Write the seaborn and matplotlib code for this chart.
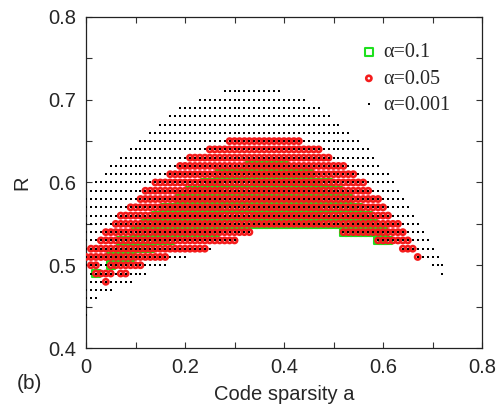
import matplotlib
matplotlib.use("Agg")
import matplotlib.pyplot as plt
import seaborn as sns
import pandas as pd
from matplotlib.ticker import MultipleLocator

# Grid rows (R values) and, for each row, the spans of code sparsity a (in hundredths)
R_rows = [0.71, 0.70, 0.69, 0.68, 0.67, 0.66, 0.65, 0.64, 0.63, 0.62,
          0.61, 0.60, 0.59, 0.58, 0.57, 0.56, 0.55, 0.54, 0.53, 0.52,
          0.51, 0.50, 0.49, 0.48, 0.47, 0.46, 0.45, 0.44]

black_spans = [
    [(28, 39)], [(23, 44)], [(19, 47)], [(17, 49)], [(15, 51)], [(13, 53)],
    [(11, 55)], [(9, 57)], [(7, 58)], [(5, 59)], [(4, 61)], [(2, 62)],
    [(1, 63)], [(0, 64)], [(0, 65)], [(0, 66)], [(0, 67)],
    [(0, 33), (52, 68)], [(0, 30), (59, 69)], [(0, 25), (64, 70)],
    [(0, 20), (67, 71)], [(0, 16), (70, 72)], [(1, 12), (72, 72)],
    [(1, 9)], [(0, 5)], [(0, 2)], [(0, 0)], [(0, 0)],
]

red_spans = [
    [], [], [], [], [], [],
    [(29, 43)], [(25, 47)], [(21, 49)], [(19, 52)], [(17, 54)], [(14, 56)],
    [(12, 57)], [(11, 59)], [(9, 60)], [(7, 61)], [(6, 63)],
    [(4, 33), (52, 64)], [(3, 30), (59, 65)], [(1, 24), (64, 66)],
    [(0, 16), (67, 67)], [(1, 2), (5, 11)], [(2, 5), (7, 8)],
    [(4, 4)], [], [], [], [],
]

green_spans = [
    [], [], [], [], [], [], [], [], [],
    [(33, 40)], [(27, 45)], [(24, 49)], [(21, 51)], [(19, 53)], [(16, 55)],
    [(14, 57)], [(12, 58)], [(10, 26), (52, 60)], [(7, 17), (59, 61)],
    [(7, 13)], [(5, 9)], [(5, 5)], [(2, 2)],
    [], [], [], [], [],
]

labels = ["α=0.1", "α=0.05", "α=0.001"]


def to_frame(spans):
    rows = []
    for R, segs in zip(R_rows, spans):
        for lo, hi in segs:
            for k in range(lo, hi + 1):
                rows.append((k / 100.0, R))
    return pd.DataFrame(rows, columns=["a", "R"])


df_g = to_frame(green_spans)
df_r = to_frame(red_spans)
df_b = to_frame(black_spans)

sns.set_style("ticks")
plt.rcParams["font.family"] = ["Liberation Sans", "DejaVu Sans"]

fig = plt.figure(figsize=(4.98, 4.04), dpi=100)
ax = fig.add_axes([0.1727, 0.1386, 0.7953, 0.8194])

sns.scatterplot(data=df_g, x="a", y="R", ax=ax, marker="s", s=30,
                facecolor="none", edgecolor="#1ee01e", linewidth=1.5,
                label=labels[0], zorder=2)
sns.scatterplot(data=df_r, x="a", y="R", ax=ax, marker="o", s=14,
                facecolor="none", edgecolor="#f41c1c", linewidth=1.9,
                label=labels[1], zorder=3)
sns.scatterplot(data=df_b, x="a", y="R", ax=ax, marker="s", s=2.6,
                color="black", linewidth=0, label=labels[2], zorder=4)

ax.set_xlim(0, 0.8)
ax.set_ylim(0.4, 0.8)
ax.xaxis.set_major_locator(MultipleLocator(0.2))
ax.xaxis.set_minor_locator(MultipleLocator(0.1))
ax.yaxis.set_major_locator(MultipleLocator(0.1))
ax.yaxis.set_minor_locator(MultipleLocator(0.05))
ax.xaxis.set_major_formatter(matplotlib.ticker.FuncFormatter(lambda v, p: f"{v:g}"))
ax.yaxis.set_major_formatter(matplotlib.ticker.FuncFormatter(lambda v, p: f"{v:g}"))
ax.tick_params(which="both", direction="in", top=True, right=True,
               length=4, width=0.8, color="#333333")
ax.tick_params(which="major", labelsize=14.5, pad=7)
for sp in ax.spines.values():
    sp.set_linewidth(0.9)
    sp.set_color("#222222")

ax.set_xlabel("Code sparsity a", fontsize=14.5, labelpad=6)
ax.set_ylabel("R", fontsize=14.5, labelpad=12)

leg = ax.legend(loc="upper right", bbox_to_anchor=(0.965, 0.975), frameon=False,
                prop={"family": "Liberation Serif", "size": 14.5},
                handletextpad=0.2, labelspacing=0.35, handlelength=1.0,
                markerscale=1.0, borderaxespad=0.5)

fig.text(0.034, 0.05, "(b)", fontsize=15, ha="left", va="center")

fig.savefig("out.png", dpi=100)
